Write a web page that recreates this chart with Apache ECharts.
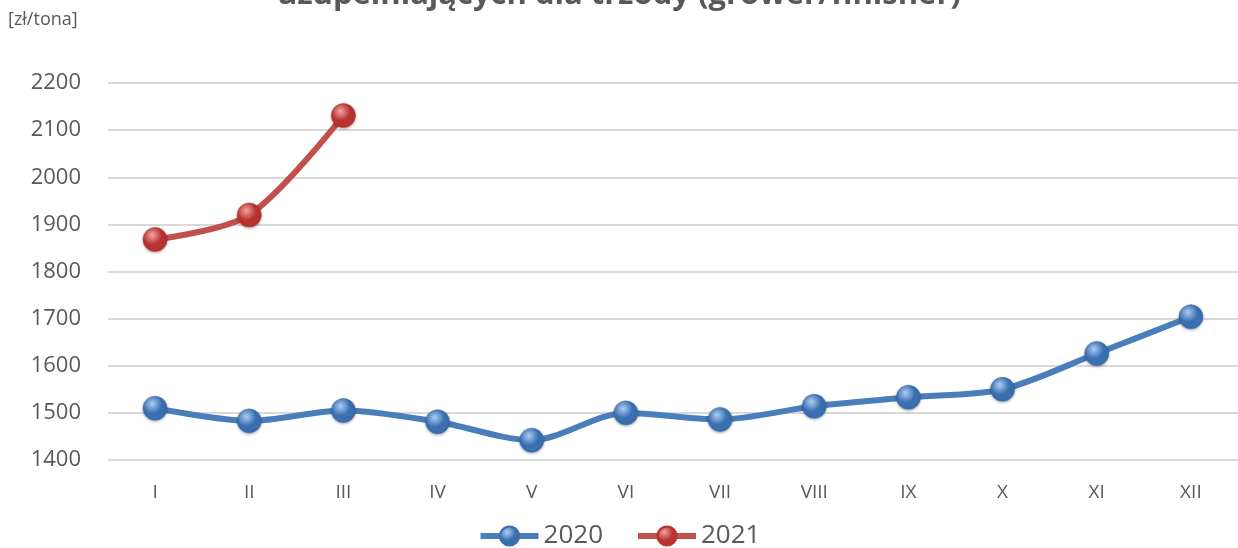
<!DOCTYPE html>
<html>
<head>
<meta charset="utf-8">
<script src="https://cdn.jsdelivr.net/npm/echarts@6/dist/echarts.min.js"></script>
<style>
  html, body { margin: 0; padding: 0; background: #fff; }
  #chart { width: 1238px; height: 548px; }
</style>
</head>
<body>
<div id="chart"></div>
<script>
const months = ['I', 'II', 'III', 'IV', 'V', 'VI', 'VII', 'VIII', 'IX', 'X', 'XI', 'XII']
const prices2020 = [1510, 1483, 1505, 1481, 1442, 1500, 1486, 1514, 1533, 1550, 1626, 1704]
const prices2021 = [1868, 1920, 2131]
const yTicks = { min: 1400, max: 2200, step: 100 }

function sphere(light, dark) {
  return {
    type: 'radial', x: 0.38, y: 0.32, r: 0.72,
    colorStops: [
      { offset: 0, color: light },
      { offset: 0.55, color: dark },
      { offset: 1, color: dark },
    ],
  }
}

const chart = echarts.init(document.getElementById('chart'))

function makeSeries(name, data, lineColor, light, dark) {
  return {
    name,
    type: 'line',
    data,
    smooth: 0.3,
    symbol: 'circle',
    symbolSize: 24,
    lineStyle: { color: lineColor, width: 6 },
    itemStyle: {
      color: sphere(light, dark),
      borderColor: dark,
      borderWidth: 0.5,
      shadowColor: 'rgba(0,0,0,0.35)',
      shadowBlur: 3,
      shadowOffsetY: 1,
    },
    emphasis: { disabled: true },
  }
}

chart.setOption({
  animation: false,
  title: {
    text: 'uzupełniających dla trzody (grower/finisher)',
    left: 'center',
    top: -25,
    textStyle: { fontFamily: 'Open Sans', fontSize: 31, fontWeight: 'bold', color: '#595959' },
  },
  graphic: [{
    type: 'text', left: 8, top: 11,
    style: { text: '[zł/tona]', fontFamily: 'Open Sans', fontSize: 18, fill: '#595959' },
  }],
  legend: {
    bottom: -6,
    left: 'center',
    itemWidth: 58,
    itemHeight: 24,
    itemGap: 32,
    lineStyle: { width: 6 },
    textStyle: { fontFamily: 'Open Sans', fontSize: 26, color: '#595959', padding: [0, 0, 0, 0] },
    data: ['2020', '2021'],
  },
  grid: { left: 108, right: -1, top: 83, bottom: 88 },
  xAxis: {
    type: 'category',
    data: months,
    boundaryGap: true,
    axisLine: { show: false },
    axisTick: { show: false },
    axisLabel: { fontFamily: 'Open Sans', fontSize: 19, color: '#595959', margin: 23 },
  },
  yAxis: {
    type: 'value',
    min: yTicks.min,
    max: yTicks.max,
    interval: yTicks.step,
    axisLine: { show: false },
    axisTick: { show: false },
    axisLabel: { fontFamily: 'Open Sans', fontSize: 22, color: '#595959', margin: 27, formatter: v => String(v) },
    splitLine: { lineStyle: { color: '#d9d9d9', width: 2 } },
  },
  series: [
    makeSeries('2020', prices2020, '#4a7ebb', '#a9cdf5', '#3a6fb0'),
    makeSeries('2021', prices2021, '#c0504d', '#f2a3a0', '#b8322f'),
  ],
})
</script>
</body>
</html>
